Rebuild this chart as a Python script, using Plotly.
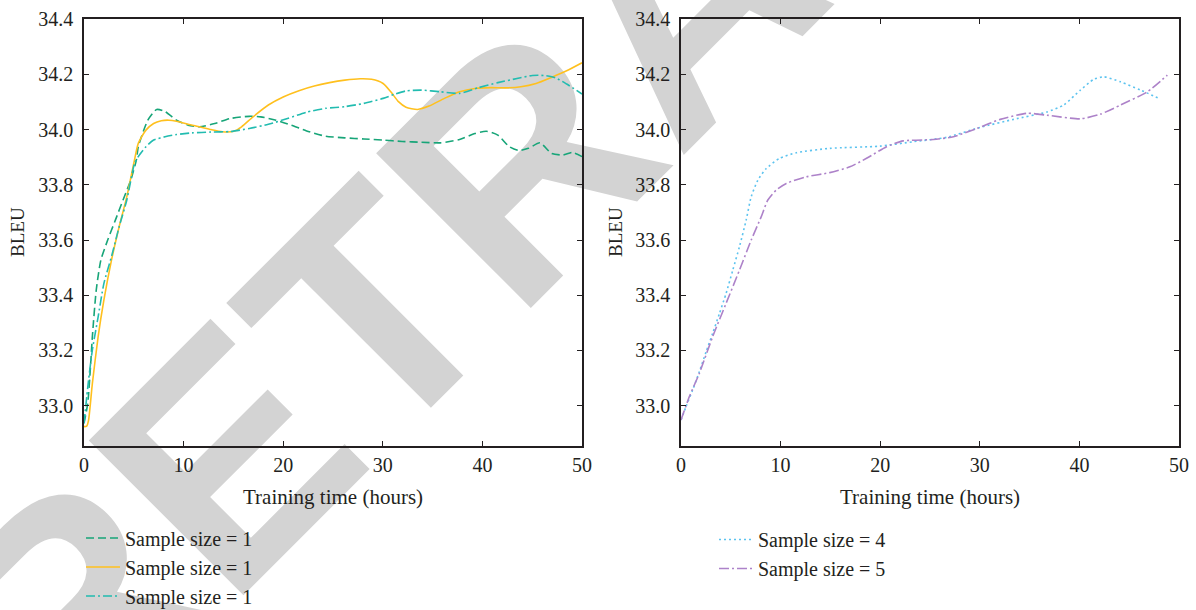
import plotly.graph_objects as go

# ---------------- data ----------------
hours_s1a = [0.0, 0.38, 0.65, 0.84, 1.23, 1.69, 2.38, 3.15, 3.92, 4.69, 5.26, 5.45, 6.41, 7.30,
             8.14, 9.29, 10.45, 11.60, 13.13, 14.67, 16.59, 17.74, 19.28, 20.81, 22.35, 24.27,
             26.19, 28.11, 30.03, 31.95, 33.87, 35.79, 37.71, 39.25, 40.40, 41.55, 42.70, 43.66,
             44.62, 45.78, 46.93, 48.08, 49.04, 50.0]
bleu_s1a = [32.936, 33.009, 33.141, 33.250, 33.419, 33.527, 33.600, 33.672, 33.745, 33.817,
            33.890, 33.938, 34.034, 34.073, 34.065, 34.034, 34.016, 34.010, 34.022, 34.040,
            34.048, 34.046, 34.034, 34.016, 33.995, 33.976, 33.970, 33.966, 33.962, 33.957,
            33.954, 33.952, 33.964, 33.986, 33.994, 33.980, 33.938, 33.924, 33.932, 33.952,
            33.914, 33.908, 33.917, 33.902]

hours_s1b = [0.0, 0.27, 0.46, 0.84, 1.42, 2.0, 2.76, 3.53, 4.30, 5.07, 5.45, 6.22, 6.99, 7.76,
             8.53, 9.29, 10.45, 11.60, 12.75, 13.90, 15.05, 15.82, 16.97, 18.51, 20.05, 21.58,
             23.12, 24.65, 26.19, 27.73, 28.88, 30.03, 30.80, 31.57, 32.33, 33.49, 34.64, 36.18,
             37.71, 39.25, 40.78, 42.32, 43.86, 45.39, 46.93, 48.46, 50.0]
bleu_s1b = [32.924, 32.926, 32.948, 33.081, 33.250, 33.383, 33.527, 33.648, 33.757, 33.890,
            33.950, 33.998, 34.022, 34.032, 34.034, 34.030, 34.019, 34.010, 34.000, 33.992,
            33.994, 34.010, 34.046, 34.089, 34.119, 34.141, 34.158, 34.170, 34.179, 34.184,
            34.182, 34.167, 34.137, 34.101, 34.081, 34.073, 34.085, 34.113, 34.137, 34.149,
            34.152, 34.151, 34.155, 34.167, 34.189, 34.213, 34.242]

hours_s1c = [0.0, 0.46, 0.84, 1.42, 2.0, 2.76, 3.53, 4.30, 5.07, 5.45, 6.22, 6.99, 8.14, 9.29,
             10.83, 12.75, 14.67, 16.59, 18.51, 20.43, 22.35, 24.27, 26.19, 28.11, 30.03, 31.18,
             32.33, 33.87, 35.79, 37.71, 39.63, 41.55, 43.47, 45.01, 46.16, 47.31, 48.46, 50.0]
bleu_s1c = [32.936, 33.093, 33.202, 33.322, 33.443, 33.540, 33.648, 33.745, 33.877, 33.902,
            33.938, 33.962, 33.974, 33.982, 33.988, 33.991, 33.993, 34.004, 34.019, 34.040,
            34.063, 34.077, 34.083, 34.095, 34.113, 34.128, 34.140, 34.143, 34.137, 34.131,
            34.152, 34.170, 34.185, 34.196, 34.196, 34.188, 34.165, 34.129]

hours_s4 = [0.0, 0.5, 1.17, 1.84, 2.52, 3.18, 3.86, 4.53, 5.2, 5.87, 6.54, 7.05, 7.72, 8.56,
            9.9, 11.58, 14.93, 19.97, 23.32, 26.68, 30.03, 33.39, 36.75, 38.42, 40.1, 41.44,
            42.45, 44.13, 46.14, 47.99]
bleu_s4 = [32.948, 32.996, 33.057, 33.123, 33.195, 33.262, 33.334, 33.407, 33.491, 33.576,
           33.672, 33.757, 33.817, 33.859, 33.896, 33.916, 33.932, 33.940, 33.956, 33.972,
           34.008, 34.037, 34.064, 34.089, 34.143, 34.182, 34.191, 34.173, 34.143, 34.113]

hours_s5 = [0.0, 0.84, 1.84, 3.18, 4.53, 5.87, 7.05, 8.05, 8.72, 9.56, 10.57, 12.59, 14.93,
            16.95, 18.63, 20.64, 22.31, 25.33, 27.35, 29.7, 32.05, 34.74, 36.75, 40.1, 42.12,
            44.13, 46.82, 48.83]
bleu_s5 = [32.948, 33.033, 33.117, 33.250, 33.371, 33.491, 33.600, 33.684, 33.745, 33.781,
           33.805, 33.829, 33.844, 33.865, 33.896, 33.938, 33.959, 33.964, 33.974, 34.004,
           34.037, 34.059, 34.052, 34.039, 34.056, 34.089, 34.137, 34.197]

x_ticks = [0, 10, 20, 30, 40, 50]
y_ticks = [33.0, 33.2, 33.4, 33.6, 33.8, 34.0, 34.2, 34.4]
y_ticktext = ["33.0", "33.2", "33.4", "33.6", "33.8", "34.0", "34.2", "34.4"]

names_left = ["Sample size = 1", "Sample size = 1", "Sample size = 1"]
names_right = ["Sample size = 4", "Sample size = 5"]
x_title = "Training time (hours)"
y_title = "BLEU"
watermark = "RETRACTED"

# ---------------- styling ----------------
W, H = 1196, 610
INK = "#231f20"
SERIF = "Liberation Serif"

def px_x(p):
    return p / W

def px_y(p):
    return 1 - p / H

fig = go.Figure()

fig.add_trace(go.Scatter(x=hours_s1a, y=bleu_s1a, name=names_left[0], mode="lines",
                         line=dict(color="#17a578", width=1.6, dash="8px,4px", shape="spline", smoothing=0.6),
                         xaxis="x", yaxis="y", legend="legend", legendgroup="a"))
fig.add_trace(go.Scatter(x=hours_s1b, y=bleu_s1b, name=names_left[1], mode="lines",
                         line=dict(color="#ffc01e", width=1.6, shape="spline", smoothing=0.6),
                         xaxis="x", yaxis="y", legend="legend", legendgroup="b"))
fig.add_trace(go.Scatter(x=hours_s1c, y=bleu_s1c, name=names_left[2], mode="lines",
                         line=dict(color="#22bcb0", width=1.6, dash="9px,3px,2px,3px", shape="spline", smoothing=0.6),
                         xaxis="x", yaxis="y", legend="legend", legendgroup="c"))
fig.add_trace(go.Scatter(x=hours_s4, y=bleu_s4, name=names_right[0], mode="lines",
                         line=dict(color="#5cc3ef", width=1.6, dash="2px,3px", shape="spline", smoothing=0.6),
                         xaxis="x2", yaxis="y2", legend="legend2", legendgroup="d"))
fig.add_trace(go.Scatter(x=hours_s5, y=bleu_s5, name=names_right[1], mode="lines",
                         line=dict(color="#ad82c9", width=1.6, dash="10px,3px,2px,3px", shape="spline", smoothing=0.6),
                         xaxis="x2", yaxis="y2", legend="legend2", legendgroup="e"))

ydom = [px_y(446), px_y(19)]
axis_common = dict(showgrid=False, zeroline=False, showline=True, linecolor=INK, linewidth=1.6,
                   ticks="inside", ticklen=5, tickwidth=1.4, tickcolor=INK, mirror="ticks",
                   automargin=False,
                   tickfont=dict(family=SERIF, size=20, color=INK))
xax = dict(axis_common, range=[0, 50], tickvals=x_ticks, ticklabelstandoff=0)
yax = dict(axis_common, range=[32.854, 34.4005], tickvals=y_ticks, ticktext=y_ticktext,
           ticklabelstandoff=5)

legend_font = dict(family=SERIF, size=20, color=INK)

fig.update_layout(
    width=W, height=H, autosize=False,
    margin=dict(l=0, r=0, t=0, b=0, pad=0, autoexpand=False),
    paper_bgcolor="white", plot_bgcolor="rgba(0,0,0,0)",
    showlegend=True,
    xaxis=dict(xax, domain=[px_x(84), px_x(582)], anchor="y"),
    yaxis=dict(yax, domain=ydom, anchor="x"),
    xaxis2=dict(xax, domain=[px_x(681), px_x(1179)], anchor="y2"),
    yaxis2=dict(yax, domain=ydom, anchor="x2"),
    legend=dict(x=px_x(81), y=px_y(518.5), xanchor="left", yanchor="top", itemwidth=34,
                bgcolor="rgba(0,0,0,0)", font=legend_font, traceorder="normal",
                tracegroupgap=0),
    legend2=dict(x=px_x(714), y=px_y(520), xanchor="left", yanchor="top", itemwidth=34,
                 bgcolor="rgba(0,0,0,0)", font=legend_font, traceorder="normal",
                 tracegroupgap=0),
    shapes=[dict(type="rect", xref="paper", yref="paper",
                 x0=px_x(610), x1=px_x(710), y0=px_y(30), y1=px_y(-70),
                 line=dict(width=0), fillcolor="rgba(0,0,0,0)", layer="below",
                 label=dict(text=watermark, textangle=-45, textposition="middle center",
                            font=dict(family="Liberation Sans", size=318,
                                      color="#d3d3d3", weight="bold")))],
    annotations=[
        dict(text=x_title, xref="paper", yref="paper", x=px_x(333), y=px_y(497),
             xanchor="center", yanchor="middle", showarrow=False,
             font=dict(family=SERIF, size=21, color=INK)),
        dict(text=x_title, xref="paper", yref="paper", x=px_x(930), y=px_y(497),
             xanchor="center", yanchor="middle", showarrow=False,
             font=dict(family=SERIF, size=21, color=INK)),
        dict(text=y_title, xref="paper", yref="paper", x=px_x(18), y=px_y(232),
             xanchor="center", yanchor="middle", showarrow=False, textangle=-90,
             font=dict(family=SERIF, size=19, color=INK)),
        dict(text=y_title, xref="paper", yref="paper", x=px_x(616), y=px_y(232),
             xanchor="center", yanchor="middle", showarrow=False, textangle=-90,
             font=dict(family=SERIF, size=19, color=INK)),
    ],
)

fig.write_html("out.html", config={"displayModeBar": False},
               post_script="document.body.style.margin='0';document.body.style.overflow='hidden';")
